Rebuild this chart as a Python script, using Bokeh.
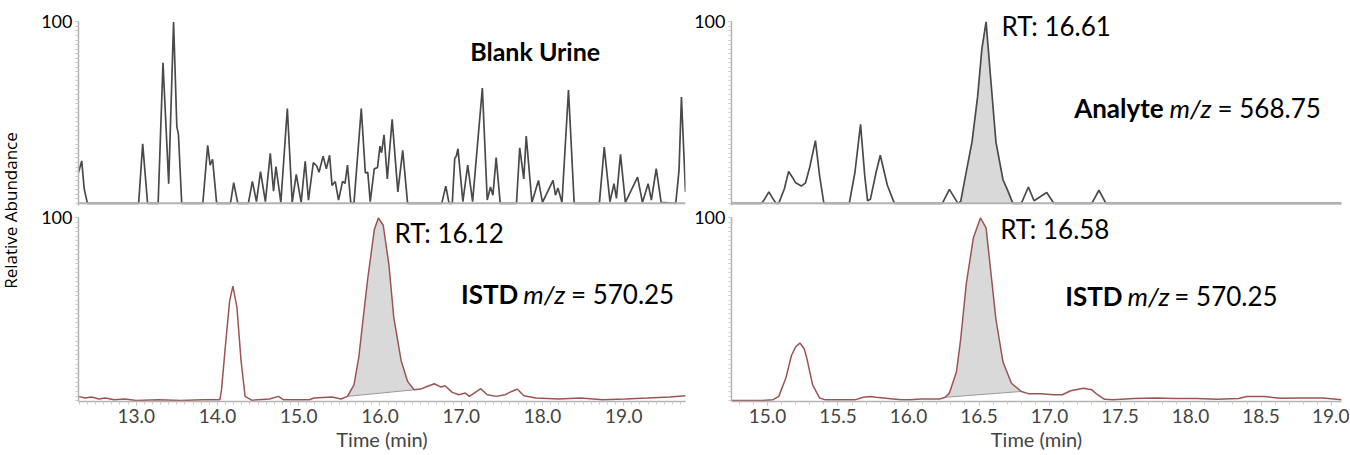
import numpy as np
from bokeh.plotting import figure
from bokeh.models import Range1d, FixedTicker, Label, Span, PrintfTickFormatter
from bokeh.layouts import row, column
from bokeh.embed import file_html
from bokeh.resources import INLINE

# ---------------- data ----------------
blank_t = [12.29, 12.33, 12.36, 12.40, 13.03, 13.08, 13.14, 13.27, 13.33, 13.40, 13.46, 13.50, 13.52, 13.56,
           13.82, 13.88, 13.91, 13.94, 13.99, 14.16, 14.20, 14.25, 14.38, 14.43, 14.48, 14.53, 14.59, 14.65,
           14.69, 14.72, 14.78, 14.86, 14.92, 14.97, 15.03, 15.08, 15.12, 15.18, 15.22, 15.25, 15.30, 15.34,
           15.38, 15.41, 15.45, 15.49, 15.54, 15.57, 15.60, 15.64, 15.68, 15.77, 15.82, 15.85, 15.88, 15.93,
           15.97, 16.00, 16.02, 16.05, 16.09, 16.15, 16.22, 16.28, 16.34, 16.76, 16.81, 16.85, 16.89, 16.92,
           16.94, 16.96, 17.02, 17.08, 17.14, 17.26, 17.32, 17.36, 17.39, 17.43, 17.48, 17.68, 17.72, 17.77,
           17.80, 17.87, 17.95, 18.00, 18.13, 18.16, 18.19, 18.24, 18.32, 18.39, 18.70, 18.76, 18.83, 18.88,
           18.91, 18.96, 19.02, 19.17, 19.23, 19.30, 19.34, 19.40, 19.46, 19.64, 19.68, 19.71, 19.76]
blank_a = [17, 23.4, 8, 0, 0, 32.8, 0, 0, 77.5, 10.8, 100, 42.3, 38, 0,
           0, 32, 21, 24.3, 0, 0, 11.4, 0, 0, 12.1, 0.9, 17.5, 0.9, 27.6,
           6.7, 20.2, 0.5, 52.3, 0.5, 15.9, 0.5, 23.2, 1.8, 22.5, 20.7, 17.1, 26, 19,
           26.5, 9.9, 12, 1.8, 12.1, 11, 21.1, 0.5, 0, 52.3, 16.7, 17.1, 0.9, 19,
           19.8, 31.5, 27.9, 37.8, 13.5, 46.3, 6.3, 29.2, 0, 0, 9.5, 0, 0, 24.7,
           26.1, 30.1, 0.9, 21.1, 0.9, 63.6, 1.8, 9, 4.5, 25.2, 0, 0, 30.6, 13.5,
           37.1, 0.5, 12.6, 0.5, 12.6, 4.5, 8.5, 0.5, 62.5, 0, 0, 31.0, 0.9, 10.8,
           2.7, 27, 0.5, 14.4, 0.5, 10.8, 1.8, 19.1, 0.5, 0, 18, 58.6, 6.3]

istd_l_t = [12.29, 12.37, 12.45, 12.54, 12.62, 12.73, 12.86, 13.00, 13.27, 13.55, 13.82, 14.03, 14.05, 14.10,
            14.15, 14.19, 14.24, 14.29, 14.34, 14.42, 14.64, 14.75, 14.81, 15.13, 15.19, 15.41, 15.52, 15.60,
            15.68, 15.74, 15.79, 15.85, 15.93, 15.98, 16.04, 16.11, 16.17, 16.26, 16.34, 16.42, 16.50, 16.58,
            16.67, 16.75, 16.80, 16.89, 16.97, 17.05, 17.10, 17.16, 17.24, 17.32, 17.43, 17.54, 17.62, 17.69,
            17.77, 17.92, 18.20, 18.47, 18.74, 19.02, 19.29, 19.57, 19.76]
istd_l_a = [2.3, 1.4, 2.0, 0.9, 1.4, 0.5, 0.9, 0, 0.5, 0, 0.5, 0.5, 6, 31,
            54.6, 62.7, 51, 22, 2.3, 0.2, 0.9, 2.3, 0.5, 0.5, 1.4, 2.0, 0.9, 2.3,
            8.6, 24, 43.8, 67, 93.5, 100, 96, 74.4, 45.6, 22, 10.5, 5.9, 6.3, 7.7,
            9.2, 7.4, 8.1, 4.5, 3.2, 4.1, 2.3, 4.1, 6.5, 3.2, 2.3, 3.2, 5.0, 6.3,
            2.7, 1.4, 0.9, 1.4, 0.5, 0.9, 1.4, 2.0, 2.7]
istd_l_area = (15.60, 2.3, 16.42, 5.9)   # start time, start level, end time, end level

analyte_t = [14.745, 14.96, 14.985, 15.01, 15.035, 15.06, 15.08, 15.12, 15.15, 15.18, 15.20, 15.24, 15.27,
             15.30, 15.34, 15.37, 15.40, 15.58, 15.62, 15.66, 15.69, 15.71, 15.73, 15.77, 15.80, 15.85, 15.90,
             16.24, 16.29, 16.35, 16.37, 16.41, 16.45, 16.49, 16.52, 16.55, 16.58, 16.62, 16.67, 16.70, 16.74,
             16.80, 16.85, 16.89, 16.98, 17.03, 17.30, 17.35, 17.40, 19.07]
analyte_a = [0, 0, 3, 6.3, 3, 0, 0, 8, 17.6, 14, 11.3, 9.5, 11.3,
             20, 34.6, 15, 0, 0, 17, 43.5, 15, 1.4, 2.3, 17, 26.5, 10, 0,
             0, 7.7, 0, 1.1, 17.6, 33.7, 58.8, 85, 100, 71.3, 33.7, 13, 7.7, 0,
             0, 9, 1.4, 6, 0, 0, 7.2, 0, 0]
analyte_area = (16.37, 16.74)

istd_r_t = [14.745, 14.96, 15.04, 15.08, 15.13, 15.17, 15.20, 15.23, 15.26, 15.28, 15.32, 15.37, 15.41, 15.62,
            15.68, 15.73, 15.77, 15.89, 15.95, 16.01, 16.09, 16.22, 16.26, 16.29, 16.34, 16.37, 16.41, 16.46,
            16.51, 16.55, 16.58, 16.62, 16.67, 16.73, 16.80, 16.85, 16.94, 17.03, 17.09, 17.15, 17.24, 17.30,
            17.34, 17.39, 17.45, 17.60, 17.75, 17.89, 18.04, 18.19, 18.34, 18.40, 18.52, 18.64, 18.79, 18.94,
            19.07]
istd_r_a = [0, 0, 0.5, 2.3, 12.2, 24.7, 29.5, 31.5, 28.5, 22.9, 8.6, 1.4, 0.4, 0.4,
            1.8, 2.3, 1.8, 0.9, 0.4, 0.4, 0.9, 0.9, 1.8, 4.1, 15.8, 33.7, 64.2, 89.2,
            100, 94.6, 73.1, 44.4, 21.1, 9.5, 5.0, 3.8, 3.8, 3.2, 3.2, 5.4, 6.8, 5.9,
            3.2, 0.7, 0.4, 1.1, 1.4, 1.1, 1.1, 0.7, 1.1, 2.2, 2.2, 1.3, 1.4, 1.4,
            0.5]
istd_r_area = (16.26, 1.8, 16.80, 5.0)

left_ticks = [13.0, 14.0, 15.0, 16.0, 17.0, 18.0, 19.0]
right_ticks = [15.0, 15.5, 16.0, 16.5, 17.0, 17.5, 18.0, 18.5, 19.0]
y_ticks = [100]

# ---------------- styling ----------------
FONT = "Lato"
AXIS_COL = "#b3b3b3"
TOP_LINE = "#4a4a4a"
BOT_LINE = "#9c5452"
FILL = "#d9d9d9"
LEFT_RANGE = (12.29, 19.76)
RIGHT_RANGE = (14.745, 19.07)
y_minor = [i * 2.5 for i in range(41)]


def base_fig(width, height, xr, yr, top, bottom, left, right, with_x):
    p = figure(width=width, height=height, x_range=Range1d(*xr), y_range=Range1d(*yr),
               toolbar_location=None, output_backend="svg",
               x_axis_location="below" if with_x else None,
               min_border_top=top, min_border_bottom=bottom,
               min_border_left=left, min_border_right=right)
    p.xgrid.visible = False
    p.ygrid.visible = False
    p.outline_line_color = None
    p.background_fill_color = "white"
    p.border_fill_color = "white"
    ya = p.yaxis[0]
    ya.ticker = FixedTicker(ticks=y_ticks, minor_ticks=y_minor)
    ya.bounds = (yr[0], 100)
    ya.major_label_text_font = FONT
    ya.major_label_text_font_size = "18px"
    ya.major_label_text_color = "black"
    ya.major_label_standoff = 3
    ya.axis_line_color = AXIS_COL
    ya.axis_line_width = 1.5
    ya.major_tick_line_color = AXIS_COL
    ya.major_tick_in = 0
    ya.major_tick_out = 3
    ya.minor_tick_line_color = "#c8c8c8"
    ya.minor_tick_in = 0
    ya.minor_tick_out = 3
    return p


def style_x(p, ticks, minor):
    xa = p.xaxis[0]
    xa.ticker = FixedTicker(ticks=ticks, minor_ticks=minor)
    xa.formatter = PrintfTickFormatter(format="%.1f")
    xa.major_label_text_font = FONT
    xa.major_label_text_font_size = "19px"
    xa.major_label_standoff = 3
    xa.axis_line_color = AXIS_COL
    xa.axis_line_width = 1.5
    xa.major_tick_line_color = AXIS_COL
    xa.major_tick_in = 0
    xa.major_tick_out = 4
    xa.minor_tick_line_color = "#c8c8c8"
    xa.minor_tick_in = 0
    xa.minor_tick_out = 3
    xa.axis_label = "Time (min)"
    xa.axis_label_text_font = FONT
    xa.axis_label_text_font_size = "20px"
    xa.axis_label_text_font_style = "normal"
    xa.axis_label_standoff = 1


def add_label(p, x, y, text, size="26px", style="normal", align="left"):
    p.add_layout(Label(x=x, y=y, text=text, text_font=FONT, text_font_size=size,
                       text_font_style=style, text_baseline="middle", text_align=align,
                       text_color="black"))


def mz_label(p, x_name_end, x_mz, x_eq, y, name, value):
    add_label(p, x_name_end, y, name, style="bold", align="right")
    add_label(p, x_mz, y, "m/z", style="italic")
    add_label(p, x_eq, y, "= " + value)


def sloped_fill(p, t, a, area):
    t = np.asarray(t)
    a = np.asarray(a)
    t0, y0, t1, y1 = area
    m = (t >= t0) & (t <= t1)
    xs = t[m]
    base = np.interp(xs, [t0, t1], [y0, y1])
    p.varea(x=xs, y1=base, y2=a[m], fill_color=FILL)
    p.line([t0, t1], [y0, y1], line_color="#9a9a9a", line_width=1)


TOP_Y = (-1.2, 107.4)
BOT_Y = (-0.5, 100.8)
LAB_W, LW, RW = 38, 650, 661
TH, BH = 207, 247

# top-left: blank urine
p_tl = base_fig(LW, TH, LEFT_RANGE, TOP_Y, 8, 2, 37, 3, False)
p_tl.add_layout(Span(location=0, dimension="width", line_color=AXIS_COL, line_width=2))
p_tl.line(blank_t, blank_a, line_color=TOP_LINE, line_width=1.7)
add_label(p_tl, 17.91, 84.2, "Blank Urine", size="25px", style="bold", align="center")

# top-right: analyte
p_tr = base_fig(RW, TH, RIGHT_RANGE, TOP_Y, 8, 2, 43, 8, False)
p_tr.add_layout(Span(location=0, dimension="width", line_color=AXIS_COL, line_width=2))
at = np.asarray(analyte_t)
aa = np.asarray(analyte_a)
mask = (at >= analyte_area[0]) & (at <= analyte_area[1])
p_tr.varea(x=at[mask], y1=0, y2=aa[mask], fill_color=FILL)
p_tr.line(analyte_t, analyte_a, line_color=TOP_LINE, line_width=1.7)
add_label(p_tr, 16.66, 97.5, "RT: 16.61")
mz_label(p_tr, 17.809, 17.851, 18.191, 52.8, "Analyte", "568.75")

# bottom-left: ISTD
p_bl = base_fig(LW, BH, LEFT_RANGE, BOT_Y, 9, 53, 37, 3, True)
style_x(p_bl, left_ticks, [round(12.3 + 0.1 * i, 2) for i in range(75)])
sloped_fill(p_bl, istd_l_t, istd_l_a, istd_l_area)
p_bl.line(istd_l_t, istd_l_a, line_color=BOT_LINE, line_width=1.5)
add_label(p_bl, 16.18, 91.5, "RT: 16.12")
mz_label(p_bl, 17.702, 17.763, 18.35, 58.1, "ISTD", "570.25")

# bottom-right: ISTD
p_br = base_fig(RW, BH, RIGHT_RANGE, BOT_Y, 9, 53, 43, 8, True)
style_x(p_br, right_ticks, [round(14.8 + 0.1 * i, 2) for i in range(43)])
sloped_fill(p_br, istd_r_t, istd_r_a, istd_r_area)
p_br.line(istd_r_t, istd_r_a, line_color=BOT_LINE, line_width=1.5)
add_label(p_br, 16.65, 94.2, "RT: 16.58")
mz_label(p_br, 17.518, 17.553, 17.885, 57.0, "ISTD", "570.25")

# shared y label
p_lab = figure(width=LAB_W, height=TH + BH, x_range=Range1d(0, LAB_W), y_range=Range1d(0, TH + BH),
               toolbar_location=None, output_backend="svg", x_axis_location=None, y_axis_location=None,
               min_border=0)
p_lab.xgrid.visible = False
p_lab.ygrid.visible = False
p_lab.outline_line_color = None
p_lab.add_layout(Label(x=10, y=TH + BH - 210, text="Relative Abundance", angle=np.pi / 2,
                       text_font="Open Sans", text_font_size="17px", text_align="center",
                       text_baseline="middle", text_color="black"))

layout = row(p_lab, column(row(p_tl, p_tr), row(p_bl, p_br)))

open("out.html", "w").write(file_html(layout, INLINE))
